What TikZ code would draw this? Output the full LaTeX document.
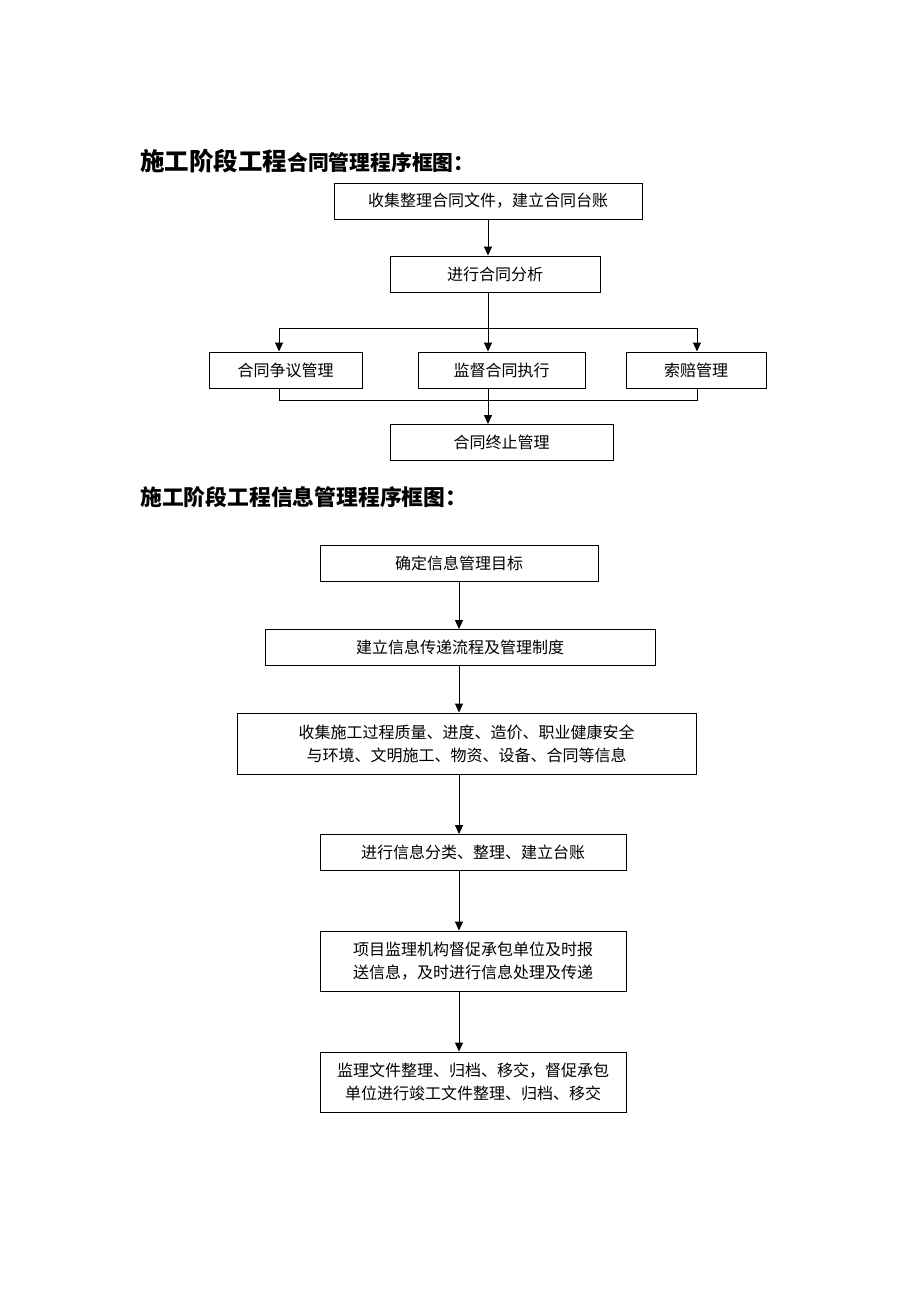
\documentclass[tikz,border=0pt]{standalone}
\usepackage{fontspec}
\newfontfamily\cjk{Noto Sans CJK SC}
\usetikzlibrary{positioning, arrows.meta}

\tikzset{
	procbox/.style={draw, line width=1pt, inner sep=0pt, align=center, minimum height=36pt, font=\cjk\fontsize{16}{23}\selectfont},
	flowarr/.style={-{Triangle[length=9pt,width=8pt]}, line width=1pt},
	flowline/.style={line width=1pt},
	heading/.style={anchor=base west, inner sep=0pt, font=\cjk\bfseries}
}

\begin{document}
\begin{tikzpicture}[x=1pt, y=-1pt]
	\useasboundingbox[fill=white] (0,0) rectangle (920,1302);
	% contract
	\node[heading] (t1) at (140,170) {{\fontsize{24.5}{24}\selectfont 施工阶段工程}{\fontsize{20.8}{20}\selectfont 合同管理程序框图：}};
	\node[procbox, minimum width=308pt] (c1) at (488,201) {收集整理合同文件，建立合同台账};
	\node[procbox, minimum width=210pt] (c2) at (495,274) {进行合同分析};
	\node[procbox, minimum width=153pt] (c3) at (285.5,370) {合同争议管理};
	\node[procbox, minimum width=167pt] (c4) at (501.5,370) {监督合同执行};
	\node[procbox, minimum width=140pt] (c5) at (696,370) {索赔管理};
	\node[procbox, minimum width=223pt] (c6) at (501.5,442.5) {合同终止管理};
	\coordinate (cs) at (488,328);
	\coordinate (cl) at (279,328);
	\coordinate (cr) at (697,328);
	\coordinate (ms) at (488,400);
	\coordinate (ml) at (279,400);
	\coordinate (mr) at (697,400);
	\draw[flowarr] (c1.south -| cs) -- (c2.north -| cs);
	\draw[flowline] (c2.south -| cs) -- (cs);
	\draw[flowline] (cl) -- (cr);
	\draw[flowarr] (cl) -- (c3.north -| cl);
	\draw[flowarr] (cs) -- (c4.north -| cs);
	\draw[flowarr] (cr) -- (c5.north -| cr);
	\draw[flowline] (c3.south -| ml) -- (ml) -- (mr) -- (c5.south -| mr);
	\draw[flowarr] (c4.south -| ms) -- (c6.north -| ms);
	% information
	\node[heading] (t2) at (140,505) {\fontsize{21.8}{21}\selectfont 施工阶段工程信息管理程序框图：};
	\node[procbox, minimum width=278pt] (i1) at (459,563) {确定信息管理目标};
	\node[procbox, minimum width=390pt] (i2) at (460,647.5) {建立信息传递流程及管理制度};
	\node[procbox, minimum width=459pt, minimum height=61pt] (i3) at (466.5,743.5) {收集施工过程质量、进度、造价、职业健康安全\\与环境、文明施工、物资、设备、合同等信息};
	\node[procbox, minimum width=306pt] (i4) at (473,852.5) {进行信息分类、整理、建立台账};
	\node[procbox, minimum width=306pt, minimum height=60pt] (i5) at (473,961) {项目监理机构督促承包单位及时报\\送信息，及时进行信息处理及传递};
	\node[procbox, minimum width=306pt, minimum height=60pt] (i6) at (473,1082) {监理文件整理、归档、移交，督促承包\\单位进行竣工文件整理、归档、移交};
	\coordinate (ax) at (459,0);
	\foreach \a/\b in {i1/i2,i2/i3,i3/i4,i4/i5,i5/i6}
		\draw[flowarr] (\a.south -| ax) -- (\b.north -| ax);
\end{tikzpicture}
\end{document}
